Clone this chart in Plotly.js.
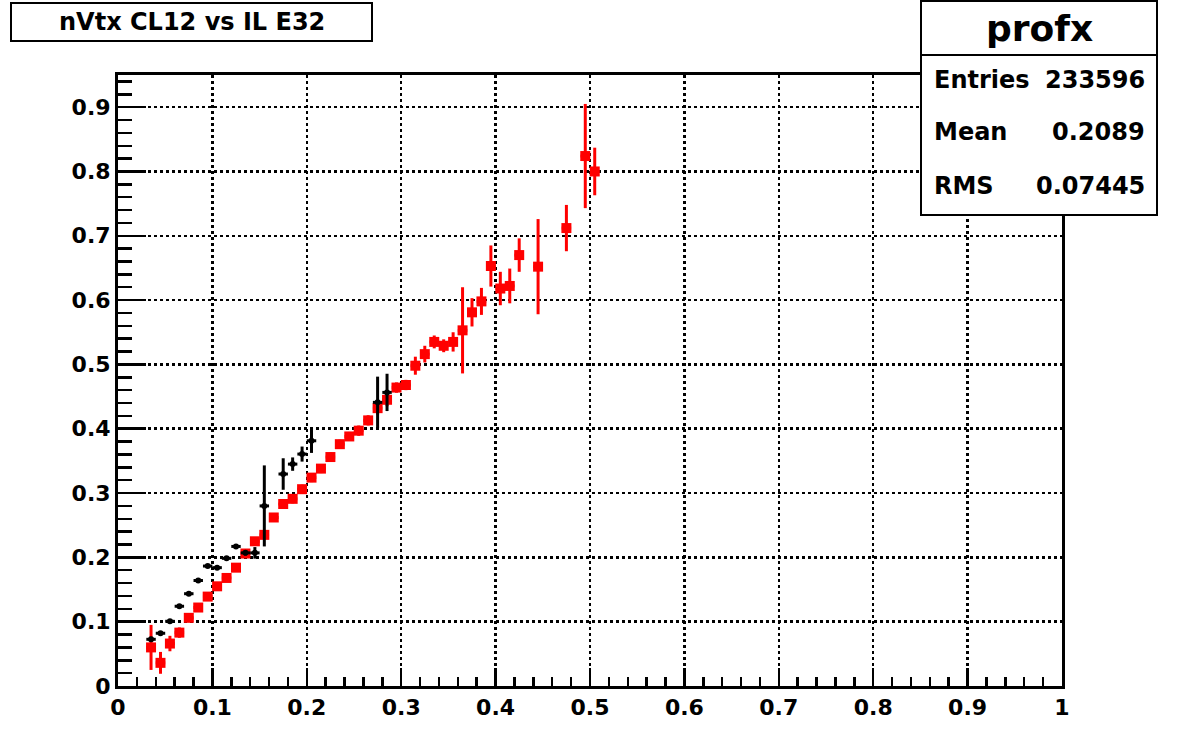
<!DOCTYPE html>
<html>
<head>
<meta charset="utf-8">
<script src="https://cdn.plot.ly/plotly-3.0.1.min.js"></script>
<style>html,body{margin:0;padding:0;background:#fff;}#chart{width:1181px;height:737px;}</style>
</head>
<body>
<div id="chart"></div>
<script>
// ---- data ----
const redX = [0.035,0.045,0.055,0.065,0.075,0.085,0.095,0.105,0.115,0.125,0.135,0.145,0.155,0.165,0.175,0.185,0.195,0.205,0.215,0.225,0.235,0.245,0.255,0.265,0.275,0.285,0.295,0.305,0.315,0.325,0.335,0.345,0.355,0.365,0.375,0.385,0.395,0.405,0.415,0.425,0.445,0.475,0.495,0.505];
const redY = [0.060,0.036,0.066,0.083,0.106,0.122,0.139,0.155,0.168,0.184,0.206,0.225,0.235,0.262,0.283,0.291,0.306,0.324,0.338,0.356,0.376,0.388,0.397,0.413,0.432,0.445,0.464,0.468,0.498,0.516,0.535,0.529,0.535,0.553,0.581,0.598,0.653,0.618,0.622,0.670,0.652,0.712,0.824,0.800];
const redErr = [0.035,0.017,0.012,0.008,0.005,0.005,0.005,0.005,0.005,0.005,0.006,0.006,0.007,0.007,0.007,0.007,0.007,0.007,0.007,0.007,0.007,0.007,0.008,0.008,0.010,0.010,0.008,0.008,0.014,0.013,0.010,0.010,0.015,0.067,0.022,0.021,0.032,0.026,0.027,0.026,0.074,0.036,0.081,0.037];
const blackX = [0.035,0.045,0.055,0.065,0.075,0.085,0.095,0.105,0.115,0.125,0.135,0.145,0.155,0.175,0.185,0.195,0.205,0.275,0.285];
const blackY = [0.0726,0.082,0.1006,0.124,0.1435,0.164,0.1865,0.184,0.1985,0.217,0.207,0.207,0.280,0.3296,0.345,0.3606,0.3813,0.441,0.4565];
const blackErr = [0.004,0.003,0.003,0.003,0.003,0.003,0.003,0.003,0.003,0.003,0.004,0.009,0.063,0.0245,0.0104,0.0117,0.0189,0.040,0.029];
const binHalfWidth = 0.005;
const titleText = "nVtx CL12 vs IL E32";
const statsName = "profx";
const statsLabels = ["Entries","Mean","RMS"];
const statsValues = ["233596","0.2089","0.07445"];

// ---- geometry helpers (pixel -> paper) ----
const W = 1181, H = 737;
const L = 118, R = 1062, T = 75, B = 686;
const px = x => (x - L) / (R - L);
const py = y => (B - y) / (B - T);

const FONT = "DejaVu Sans, Verdana, sans-serif";

const traces = [
  {
    x: redX, y: redY, type: 'scatter', mode: 'markers',
    marker: {symbol: 'square', size: 10, color: '#ff0000'},
    error_y: {type: 'data', array: redErr, visible: true, thickness: 3, width: 0, color: '#ff0000'},
    error_x: {type: 'constant', value: binHalfWidth, visible: true, thickness: 3, width: 0, color: '#ff0000'},
    hoverinfo: 'x+y'
  },
  {
    x: blackX, y: blackY, type: 'scatter', mode: 'markers',
    marker: {symbol: 'circle', size: 6, color: '#000000'},
    error_y: {type: 'data', array: blackErr, visible: true, thickness: 3, width: 0, color: '#000000'},
    error_x: {type: 'constant', value: binHalfWidth, visible: true, thickness: 3, width: 0, color: '#000000'},
    hoverinfo: 'x+y'
  }
];

const axisCommon = {
  showline: true, linecolor: '#000', linewidth: 3, mirror: true,
  zeroline: false,
  showgrid: true, gridcolor: '#000', gridwidth: 2.5, griddash: 'dot',
  ticks: 'inside', tickcolor: '#000', tickwidth: 2.5,
  tickfont: {family: FONT, size: 22, color: '#000', weight: 700},
  dtick: 0.1, tick0: 0
};

const layout = {
  width: W, height: H,
  margin: {l: L, r: W - R, t: T, b: H - B, pad: 0},
  paper_bgcolor: '#fff', plot_bgcolor: '#fff',
  showlegend: false,
  xaxis: Object.assign({}, axisCommon, {
    range: [0, 1], ticklen: 18,
    minor: {dtick: 0.02, tick0: 0, ticks: 'inside', ticklen: 9, tickwidth: 2.5, tickcolor: '#000', showgrid: false}
  }),
  yaxis: Object.assign({}, axisCommon, {
    range: [0, 0.95], ticklen: 28,
    minor: {dtick: 0.02, tick0: 0, ticks: 'inside', ticklen: 14, tickwidth: 2.5, tickcolor: '#000', showgrid: false}
  }),
  shapes: [
    {type: 'rect', xref: 'paper', yref: 'paper', layer: 'above',
     x0: px(11), x1: px(372), y0: py(41), y1: py(3),
     line: {color: '#000', width: 2}, fillcolor: '#fff'},
    {type: 'rect', xref: 'paper', yref: 'paper', layer: 'above',
     x0: px(921), x1: px(1157), y0: py(215), y1: py(1),
     line: {color: '#000', width: 2}, fillcolor: '#fff'},
    {type: 'line', xref: 'paper', yref: 'paper', layer: 'above',
     x0: px(921), x1: px(1157), y0: py(55), y1: py(55),
     line: {color: '#000', width: 2}}
  ],
  annotations: [
    {text: titleText, xref: 'paper', yref: 'paper', x: px(191.5), y: py(22),
     xanchor: 'center', yanchor: 'middle', showarrow: false,
     font: {family: FONT, size: 24, color: '#000', weight: 700}},
    {text: statsName, xref: 'paper', yref: 'paper', x: px(1039), y: py(28),
     xanchor: 'center', yanchor: 'middle', showarrow: false,
     font: {family: FONT, size: 36, color: '#000', weight: 700}}
  ]
};

const rowY = [80, 132, 186];
for (let i = 0; i < statsLabels.length; i++) {
  layout.annotations.push({text: statsLabels[i], xref: 'paper', yref: 'paper', x: px(932), y: py(rowY[i]),
    xanchor: 'left', yanchor: 'middle', showarrow: false,
    font: {family: FONT, size: 24, color: '#000', weight: 700}});
  layout.annotations.push({text: statsValues[i], xref: 'paper', yref: 'paper', x: px(1147), y: py(rowY[i]),
    xanchor: 'right', yanchor: 'middle', showarrow: false,
    font: {family: FONT, size: 24, color: '#000', weight: 700}});
}

Plotly.newPlot('chart', traces, layout, {displayModeBar: false, staticPlot: true});
</script>
</body>
</html>
